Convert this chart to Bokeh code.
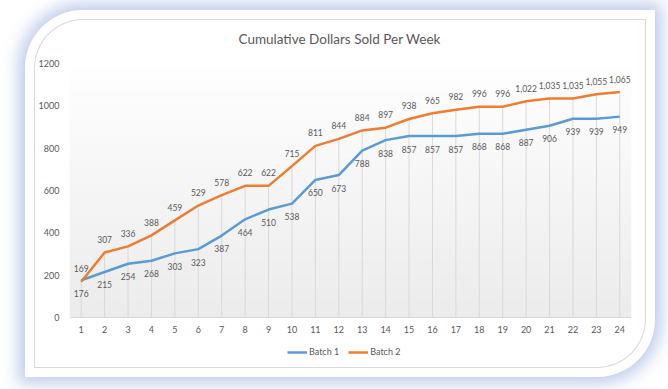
import numpy as np
from bokeh.plotting import figure
from bokeh.models import Legend, LegendItem, FixedTicker, ColumnDataSource
from bokeh.core.properties import value
from bokeh.embed import file_html
from bokeh.resources import INLINE

weeks = list(range(1, 25))
batch1 = [176, 215, 254, 268, 303, 323, 387, 464, 510, 538, 650, 673,
          788, 838, 857, 857, 857, 868, 868, 887, 906, 939, 939, 949]
batch2 = [169, 307, 336, 388, 459, 529, 578, 622, 622, 715, 811, 844,
          884, 897, 938, 965, 982, 996, 996, 1022, 1035, 1035, 1055, 1065]
y_ticks = [0, 200, 400, 600, 800, 1000, 1200]
title_text = "Cumulative  Dollars Sold Per Week"
series_names = ["Batch 1", "Batch 2"]

FONT = "Lato"
TXT = "#595959"
BLUE = "#5B9BD5"
ORANGE = "#ED7D31"

Y_MAX = 1200
# plot frame extends below zero so that the legend sits inside it
FRAME_TOP, FRAME_BOTTOM, ZERO_PX = 53, 352, 307
y_lo = Y_MAX - (FRAME_BOTTOM - FRAME_TOP) * Y_MAX / (ZERO_PX - FRAME_TOP)

p = figure(
    width=630, height=367,
    x_range=(0.5, 24.5), y_range=(y_lo, Y_MAX),
    output_backend="svg", toolbar_location=None,
    min_border_left=44, min_border_right=24,
    min_border_top=FRAME_TOP, min_border_bottom=367 - FRAME_BOTTOM,
    border_fill_color=None, background_fill_color=None,
    outline_line_color=None,
    margin=(10, 0, 0, 25),
    styles={
        "background-color": "white",
        "border-radius": "58px 0 58px 0",
        "box-shadow": ("inset 0 0 0 9px #ffffff, inset 0 0 0 10px #d9d9d9, "
                       "0 0 16px 7px rgba(140,165,220,0.55)"),
    },
)

# title
p.title.text = title_text
p.title.align = "left"
p.title.offset = 169
p.title.text_font = FONT
p.title.text_font_size = "13.5px"
p.title.text_font_style = "normal"
p.title.text_color = TXT
p.title.standoff = 34

# plot-area gradient background
n = 64
t = np.linspace(0, 1, n)  # 0 bottom -> 1 top
g = (236 + (255 - 236) * t).astype(np.uint32)
img = np.empty((n, 1), dtype=np.uint32)
img[:, 0] = (255 << 24) | (g << 16) | (g << 8) | g
p.image_rgba(image=[img], x=0.5, y=0, dw=24, dh=Y_MAX)

# drop lines
tops = np.maximum(np.array(batch1), np.array(batch2))
p.segment(x0=weeks, y0=[0] * len(weeks), x1=weeks, y1=tops,
          line_color="#d9d9d9", line_width=1)

# lines
r1 = p.line(weeks, batch1, line_color=BLUE, line_width=2.5)
r2 = p.line(weeks, batch2, line_color=ORANGE, line_width=2.5)

# data labels
src1 = ColumnDataSource(dict(x=weeks, y=batch1, t=[f"{v:,}" for v in batch1]))
src2 = ColumnDataSource(dict(x=weeks, y=batch2, t=[f"{v:,}" for v in batch2]))
p.text(x="x", y="y", text="t", source=src1, y_offset=13,
       text_align="center", text_baseline="middle",
       text_font=value(FONT), text_font_size="8.5px", text_color=TXT)
p.text(x="x", y="y", text="t", source=src2, y_offset=-13,
       text_align="center", text_baseline="middle",
       text_font=value(FONT), text_font_size="8.5px", text_color=TXT)

# axes
p.xaxis.ticker = FixedTicker(ticks=weeks)
p.yaxis.ticker = FixedTicker(ticks=y_ticks)
p.xaxis.fixed_location = 0
for ax in (p.xaxis[0], p.yaxis[0]):
    ax.major_tick_line_color = None
    ax.minor_tick_line_color = None
    ax.major_label_text_font = FONT
    ax.major_label_text_font_size = "9px"
    ax.major_label_text_color = TXT
p.xaxis.axis_line_color = "#d9d9d9"
p.yaxis.axis_line_color = None
p.xaxis.major_label_standoff = 2
p.yaxis.major_label_standoff = 4
p.xgrid.grid_line_color = None
p.ygrid.grid_line_color = None

# legend
legend = Legend(
    items=[LegendItem(label=series_names[0], renderers=[r1]),
           LegendItem(label=series_names[1], renderers=[r2])],
    orientation="horizontal", location=(218, 5),
    label_text_font=FONT, label_text_font_size="9px", label_text_color=TXT,
    glyph_width=20, glyph_height=10, label_standoff=2, spacing=9,
    padding=0, margin=0, border_line_color=None, background_fill_alpha=0,
)
p.add_layout(legend, "center")

open("out.html", "w").write(file_html(p, INLINE))
